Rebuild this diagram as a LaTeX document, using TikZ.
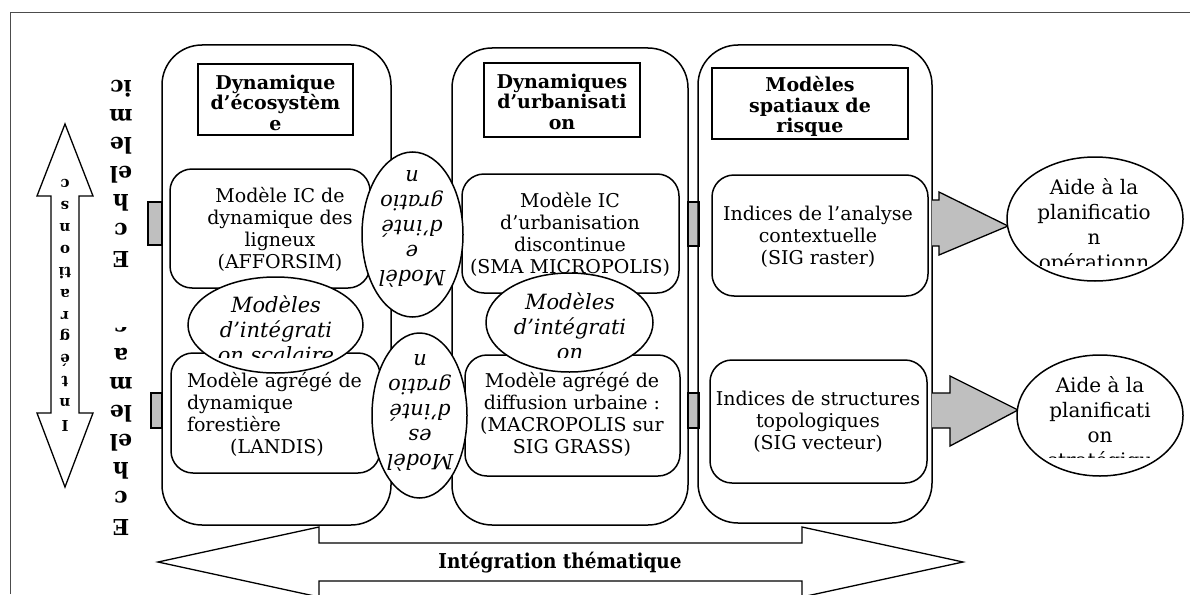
\documentclass[tikz,border=0pt]{standalone}
\usepackage{fontspec}
\setmainfont{DejaVu Serif}
\newfontfamily\condfont{DejaVu Serif Condensed}
\usetikzlibrary{shapes.geometric}

\tikzset{
  colbox/.style={draw, line width=1.5pt, rounded corners=40pt},
  headbox/.style={draw, line width=1.5pt, fill=white},
  modbox/.style={draw, line width=1.5pt, rounded corners=22pt, fill=white},
  integ/.style={draw, ellipse, line width=1.5pt, fill=white, inner sep=0pt},
  greybox/.style={draw, line width=1.3pt, fill=black!25},
  bodytxt/.style={align=center, inner sep=0pt, font=\fontsize{19}{22}\selectfont},
  headtxt/.style={align=center, inner sep=0pt, font=\fontsize{19}{20.5}\selectfont\bfseries},
  itxt/.style={align=center, inner sep=0pt, font=\fontsize{21}{25}\selectfont\itshape},
  lettxt/.style={align=center, inner sep=0pt, rotate=180, font=\fontsize{22}{28.5}\selectfont\bfseries},
}

\begin{document}
\begin{tikzpicture}[x=1pt, y=-1pt]
	\useasboundingbox (0,0) rectangle (1190,594);
	\draw[line width=0.8pt, black!70] (10,594) -- (10,12) -- (1190,12);

	% grey links between the columns
	\draw[greybox] (148,202) rectangle (162,245);
	\draw[greybox] (151,393) rectangle (162,428);
	\draw[greybox] (688,202) rectangle (699,246);
	\draw[greybox] (688,393) rectangle (699,428);

	% columns
	\node[colbox, minimum width=229pt, minimum height=480pt] (col1) at (276.5,285) {};
	\node[colbox, minimum width=236pt, minimum height=477pt] (col2) at (570,286.5) {};
	\node[colbox, minimum width=234pt, minimum height=478pt] (col3) at (815,284) {};

	% headers
	\node[headbox, minimum width=155pt, minimum height=71pt] (head1) at (275.5,99.5) {};
	\node[headtxt] (head1txt) at (275.5,102.5) {Dynamique\\d’écosystèm\\e};
	\node[headbox, minimum width=156pt, minimum height=74pt] (head2) at (562,100) {};
	\node[headtxt] (head2txt) at (562,101.5) {Dynamiques\\d’urbanisati\\on};
	\node[headbox, minimum width=196pt, minimum height=71pt] (head3) at (810,103.5) {};
	\begin{scope}
		\clip (712,68) rectangle (908,138);
		\node[headtxt] (head3txt) at (810,106.5) {Modèles\\spatiaux de\\risque};
	\end{scope}

	% models
	\node[modbox, minimum width=200pt, minimum height=119pt] (afforsim) at (270,228.5) {};
	\node[bodytxt] (afforsimtxt) at (280,229.5) {Modèle IC de\\dynamique des\\ligneux\\(AFFORSIM)};
	\node[modbox, minimum width=209pt, minimum height=120pt] (landis) at (275.5,413) {};
	\node[bodytxt, text width=180pt] (landistxt) at (277,414.5) {\raggedright Modèle agrégé de\\dynamique\\forestière\par\centering (LANDIS)};
	\node[modbox, minimum width=217pt, minimum height=119pt] (micropolis) at (570.5,233.5) {};
	\node[bodytxt] (micropolistxt) at (570,234) {Modèle IC\\d’urbanisation\\discontinue\\(SMA MICROPOLIS)};
	\node[modbox, minimum width=215pt, minimum height=121pt] (macropolis) at (572.5,415.5) {};
	\node[bodytxt] (macropolistxt) at (572,414) {Modèle agrégé de\\diffusion urbaine :\\(MACROPOLIS sur\\SIG GRASS)};
	\node[modbox, minimum width=216pt, minimum height=121pt] (raster) at (820,235.5) {};
	\node[bodytxt] (rastertxt) at (818,236.5) {Indices de l’analyse\\contextuelle\\(SIG raster)};
	\node[modbox, minimum width=217pt, minimum height=123pt] (vecteur) at (818.5,421.5) {};
	\node[bodytxt] (vecteurtxt) at (818,422) {Indices de structures\\topologiques\\(SIG vecteur)};

	% integration ellipses
	\node[integ, minimum width=175pt, minimum height=96pt] (scal1) at (275.5,325) {};
	\begin{scope}
		\clip (190,280) rectangle (362,357);
		\node[itxt] (scal1txt) at (276,329) {Modèles\\d’intégrati\\on scalaire};
	\end{scope}
	\node[integ, minimum width=167pt, minimum height=99pt] (scal2) at (569.5,322.5) {};
	\begin{scope}
		\clip (488,275) rectangle (652,357);
		\node[itxt] (scal2txt) at (570,326) {Modèles\\d’intégrati\\on};
	\end{scope}
	\node[integ, minimum width=101pt, minimum height=165pt] (inter1) at (412.5,234.5) {};
	\node[itxt, rotate=180] (inter1txt) at (412,229) {Modèl\\e\\d’inté\\gratio\\n};
	\node[integ, minimum width=95pt, minimum height=165pt] (inter2) at (419.5,415.5) {};
	\node[itxt, rotate=180] (inter2txt) at (420,412.5) {Modèl\\es\\d’inté\\gratio\\n};

	% decision support
	\draw[greybox] (932,200) -- (939,200) -- (939,192) -- (1008,226) -- (939,255) -- (939,246) -- (932,246);
	\draw[greybox] (932,393) -- (950,393) -- (950,376) -- (1018,410) -- (950,446) -- (950,428) -- (932,428);
	\node[integ, minimum width=176pt, minimum height=124pt] (oper) at (1095,219) {};
	\begin{scope}
		\clip (1010,160) rectangle (1180,265);
		\node[itxt, font=\fontsize{20}{25}\selectfont] (opertxt) at (1094,226) {Aide à la\\planificatio\\n\\opérationn};
	\end{scope}
	\node[integ, minimum width=166pt, minimum height=121pt] (strat) at (1100,415.5) {};
	\begin{scope}
		\clip (1020,357) rectangle (1180,457);
		\node[itxt, font=\fontsize{20}{25}\selectfont] (strattxt) at (1100,424) {Aide à la\\planificati\\on\\stratégiqu};
	\end{scope}

	% scale axis
	\draw[line width=1.3pt] (65,124) -- (93,196) -- (79,196) -- (79,413) -- (93,413) -- (65,487) -- (37,413) -- (51,413) -- (51,196) -- (37,196) -- cycle;
	\node[lettxt, font=\fontsize{15}{21.9}\selectfont\bfseries] (scalaxis) at (65,305.5) {I\\n\\t\\é\\g\\r\\a\\ti\\o\\n\\s\\c};
	\begin{scope}
		\clip (95,64) rectangle (150,280);
		\node[lettxt] (micro) at (121,160) {E\\c\\h\\el\\le\\m\\ic\\ro};
	\end{scope}
	\begin{scope}
		\clip (95,327) rectangle (150,545);
		\node[lettxt] (macro) at (121,428) {E\\c\\h\\el\\le\\m\\a\\c};
	\end{scope}

	% thematic axis
	\draw[line width=1.3pt] (319,543) -- (319,527) -- (158,562) -- (319,597) -- (319,581) -- (802,581) -- (802,597) -- (963,562) -- (802,527) -- (802,543) -- cycle;
	\node[font=\fontsize{20.5}{22}\selectfont\condfont\bfseries] (thema) at (560,563) {Intégration thématique};
\end{tikzpicture}
\end{document}
